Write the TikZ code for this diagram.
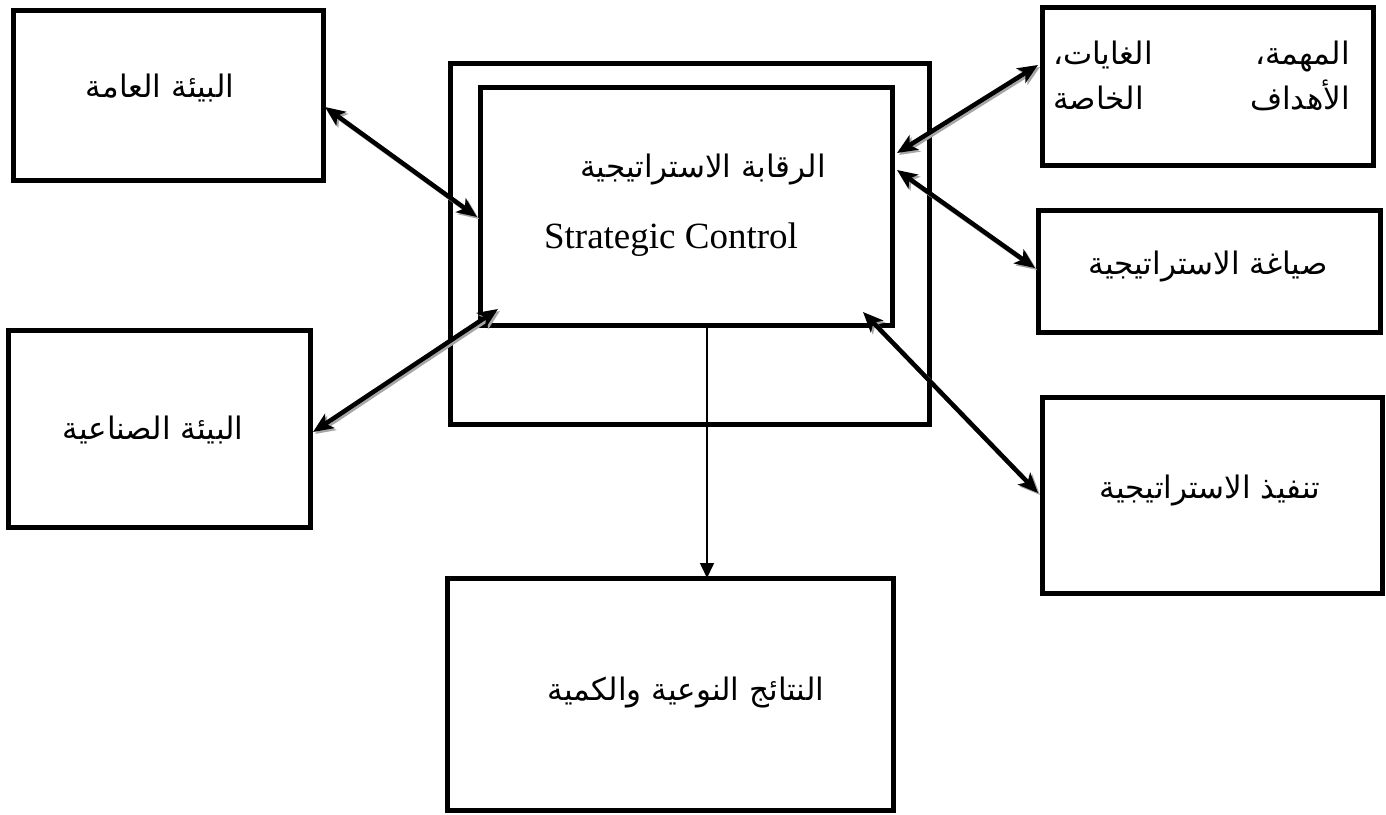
\documentclass[tikz,border=0pt]{standalone}
\usepackage{fontspec}
\setmainfont{Liberation Serif}
\newfontfamily\arabicfont[Script=Arabic]{DejaVu Sans}
\TeXXeTstate=1
\usetikzlibrary{arrows.meta,calc}

\newcommand{\ar}[1]{{\arabicfont\beginR #1\endR}}

\tikzset{
  box/.style={draw, line width=5pt, rectangle, inner sep=0pt, outer sep=0pt},
  atxt/.style={inner sep=0pt, font=\fontsize{31}{37}\selectfont},
  etxt/.style={inner sep=0pt, font=\fontsize{37}{44}\selectfont},
  biarrow/.style={line width=4.5pt, {Stealth[length=20pt,width=17pt,inset=5pt]}-{Stealth[length=20pt,width=17pt,inset=5pt]},
    preaction={draw=black!35, line width=4.5pt,
      transform canvas={shift={(2pt,-2pt)}},
      {Stealth[length=20pt,width=17pt,inset=5pt]}-{Stealth[length=20pt,width=17pt,inset=5pt]}}},
  downarrow/.style={line width=1.6pt, -{Triangle[length=15pt,width=14pt]}}
}

\begin{document}
\begin{tikzpicture}[x=1pt,y=-1pt]
  \useasboundingbox[fill=white] (0,0) rectangle (1386,814);

  % boxes
  \node[box, minimum width=310pt, minimum height=170pt] (genEnv) at (168,95) {};
  \node[box, minimum width=302pt, minimum height=197pt] (indEnv) at (159,428.5) {};
  \node[box, minimum width=331pt, minimum height=158pt] (mission) at (1207.5,86) {};
  \node[box, minimum width=342pt, minimum height=122pt] (formul) at (1209,271) {};
  \node[box, minimum width=340pt, minimum height=196pt] (implem) at (1212,495) {};
  \node[box, minimum width=446pt, minimum height=232pt] (results) at (670,694) {};
  \node[box, minimum width=479pt, minimum height=361pt] (outer) at (689.5,243.5) {};
  \node[box, minimum width=412pt, minimum height=238pt] (inner) at (686,206) {};

  % labels
  \node[atxt] (genEnvT) at (160,88) {\ar{البيئة العامة}};
  \node[atxt] (indEnvT) at (153,430) {\ar{البيئة الصناعية}};
  \node[atxt] (formulT) at (1208,267) {\ar{صياغة الاستراتيجية}};
  \node[atxt] (implemT) at (1210,490) {\ar{تنفيذ الاستراتيجية}};
  \node[atxt] (resultsT) at (686,692) {\ar{النتائج النوعية والكمية}};
  \node[atxt] (innerA) at (703,170) {\ar{الرقابة الاستراتيجية}};
  \node[etxt] (innerE) at (671,240) {Strategic Control};
  \node[atxt, anchor=base east] (m1) at (1350,64) {\ar{المهمة،}};
  \node[atxt, anchor=base west] (m2) at (1053,64) {\ar{الغايات،}};
  \node[atxt, anchor=base east] (m3) at (1350,109) {\ar{الأهداف}};
  \node[atxt, anchor=base west] (m4) at (1053,109) {\ar{الخاصة}};

  % connectors
  \draw[biarrow] ($(genEnv.east)+(2,12)$) -- ($(inner.west)+(-3,11)$);
  \draw[biarrow] ($(indEnv.east)+(3,3.5)$) -- ($(inner.south west)+(18,-16)$);
  \draw[biarrow] ($(mission.west)+(-4,-21)$) -- ($(inner.east)+(5,-53)$);
  \draw[biarrow] ($(formul.west)+(-3,-3)$) -- ($(inner.east)+(5,-36)$);
  \draw[biarrow] ($(implem.west)+(-4,-2)$) -- ($(inner.south east)+(-29,-13)$);
  \coordinate (drop) at ($(inner.south)+(21,0)$);
  \draw[downarrow] (drop) -- (drop |- results.north);
\end{tikzpicture}
\end{document}
